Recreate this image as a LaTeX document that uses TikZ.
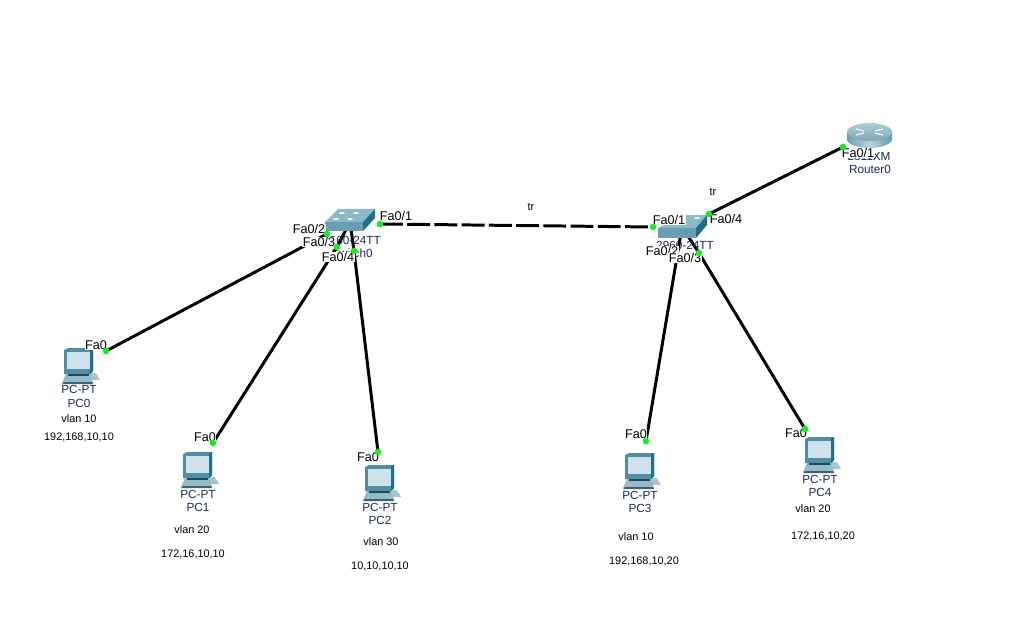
\documentclass[tikz,border=0pt]{standalone}
\usepackage{fontspec}
\setmainfont{Liberation Sans}
\usetikzlibrary{arrows.meta,positioning,calc}
\definecolor{PortGreen}{RGB}{20,240,30}
\definecolor{SwitchFront}{RGB}{104,158,178}
\definecolor{SwitchTop}{RGB}{140,185,200}
\definecolor{SwitchSide}{RGB}{30,112,135}
\definecolor{ScreenBlue}{RGB}{205,226,236}
\definecolor{CaseBlue}{RGB}{84,140,162}
\definecolor{BaseGrey}{RGB}{170,196,206}
\definecolor{NameBlue}{RGB}{30,40,90}
\pgfdeclarelayer{back}
\pgfdeclarelayer{front}
\pgfsetlayers{back,main,front}
\tikzset{
  portdot/.style={circle,fill=PortGreen,inner sep=0pt,minimum size=3.8pt},
  portlbl/.style={fill=white,inner sep=0.3pt,font=\fontsize{7.2}{8}\selectfont},
  devlbl/.style={inner sep=0pt,text=NameBlue,font=\fontsize{6.7}{8}\selectfont},
  notelbl/.style={inner sep=0pt,font=\fontsize{6.2}{8}\selectfont},
  cable/.style={draw=black,line width=1.7pt},
  pcicon/.pic={
    \fill[BaseGrey] (18,24) -- (34,24) -- (38,31) -- (22,31) -- cycle;
    \fill[CaseBlue!60!white] (4,25) -- (28,25) -- (31,34) -- (0,34) -- cycle;
    \fill[CaseBlue!70!black] (2,33) -- (30,33) -- (31,35) -- (0,35) -- cycle;
    \fill[CaseBlue] (2,1) -- (6,-1) -- (31,-1) -- (31,22) -- (28,25) -- (2,25) -- cycle;
    \fill[ScreenBlue] (5,3) -- (28,3) -- (28,20) -- (5,20) -- cycle;
    \fill[SwitchSide] (28,0) -- (31,-1) -- (31,22) -- (28,25) -- cycle;
    \fill[SwitchSide!70!black] (6,25) rectangle (27,27);
  }
}
\begin{document}
\begin{tikzpicture}[x=0.02cm,y=-0.02cm]
  \useasboundingbox (0,0) rectangle (1016,624);

  % ports
  \begin{pgfonlayer}{front}
    \node[portdot] (s0p1) at (380,224) {};
    \node[portdot] (s0p2) at (327,234) {};
    \node[portdot] (s0p3) at (337,247) {};
    \node[portdot] (s0p4) at (354,251) {};
    \node[portdot] (s1p1) at (653,227) {};
    \node[portdot] (s1p3) at (699,253) {};
    \node[portdot] (s1p4) at (709,214) {};
    \node[portdot] (r0p1) at (843,147) {};
    \node[portdot] (pc0p) at (106,351) {};
    \node[portdot] (pc1p) at (213,443) {};
    \node[portdot] (pc2p) at (378,452) {};
    \node[portdot] (pc3p) at (646,441) {};
    \node[portdot] (pc4p) at (805,429) {};
  \end{pgfonlayer}
  \coordinate (sw0) at (350,222);
  \coordinate (sw1) at (682,227);

  % switch 0
  \fill[SwitchTop] (325,222) -- (338,209) -- (375,209) -- (363,222) -- cycle;
  \fill[SwitchFront] (325,222) rectangle (363,231);
  \fill[SwitchSide] (363,222) -- (375,209) -- (375,218) -- (363,231) -- cycle;
  \foreach \px/\py in {336/219,350/219,342/213,356/213}
    \fill[white!85!SwitchTop] (\px,\py) ellipse (3 and 1);

  % switch 1
  \fill[SwitchTop] (658,228) -- (685,215) -- (707,215) -- (696,228) -- cycle;
  \fill[SwitchFront] (658,228) rectangle (696,238);
  \fill[SwitchSide] (696,228) -- (707,215) -- (707,225) -- (696,238) -- cycle;
  \foreach \px/\py in {683/222,697/218}
    \fill[white!85!SwitchTop] (\px,\py) ellipse (3 and 1);

  % router
  \shade[left color=SwitchFront,right color=SwitchSide!70!white,middle color=SwitchTop!60!white] (847,132) -- (847,139) arc[start angle=180,end angle=0,x radius=22.5,y radius=9] -- (892,132) -- cycle;
  \shade[top color=SwitchTop!70!white,bottom color=SwitchTop!90!black] (869.5,132) ellipse (22.5 and 9);
  \draw[white!80!SwitchTop,line width=0.8pt] (856,129) -- (864,131) (883,129) -- (875,131) (856,135) -- (864,133) (883,135) -- (875,133);

  % pcs
  \pic at (62,349) {pcicon};
  \pic at (181,453) {pcicon};
  \pic at (363,466) {pcicon};
  \pic at (623,454) {pcicon};
  \pic at (803,438) {pcicon};

  % links
  \begin{pgfonlayer}{back}
    \draw[cable] (pc0p.center) -- (s0p2.center);
    \draw[cable] (pc1p.center) -- (s0p3.center) -- (sw0);
    \draw[cable] (pc2p.center) -- (s0p4.center) -- (sw0);
    \draw[cable,dash pattern=on 13pt off 2.5pt] (s0p1.center) -- (s1p1.center);
    \draw[cable] (pc3p.center) -- (sw1);
    \draw[cable] (pc4p.center) -- (s1p3.center) -- (sw1);
    \draw[cable] (s1p4.center) -- (r0p1.center);
  \end{pgfonlayer}

  % device names
  \node[devlbl] (s0model) at (352,240) {2960-24TT};
  \node[devlbl] (s0name) at (352,253) {Switch0};
  \node[devlbl] (s1model) at (685,245) {2960-24TT};
  \node[devlbl] (r0model) at (869,156) {2811XM};
  \node[devlbl] (r0name) at (870,169) {Router0};
  \node[devlbl] (pc0type) at (79,389) {PC-PT};
  \node[devlbl] (pc0name) at (79,403) {PC0};
  \node[devlbl] (pc1type) at (198,494) {PC-PT};
  \node[devlbl] (pc1name) at (198,507) {PC1};
  \node[devlbl] (pc2type) at (380,507) {PC-PT};
  \node[devlbl] (pc2name) at (380,520) {PC2};
  \node[devlbl] (pc3type) at (640,495) {PC-PT};
  \node[devlbl] (pc3name) at (640,508) {PC3};
  \node[devlbl] (pc4type) at (820,479) {PC-PT};
  \node[devlbl] (pc4name) at (820,492) {PC4};

  % notes
  \node[notelbl] (tr0) at (531,207) {tr};
  \node[notelbl] (tr1) at (713,192) {tr};
  \node[notelbl] (pc0vlan) at (79,419) {vlan 10};
  \node[notelbl] (pc0ip) at (79,437) {192,168,10,10};
  \node[notelbl] (pc1vlan) at (192,530) {vlan 20};
  \node[notelbl] (pc1ip) at (193,554) {172,16,10,10};
  \node[notelbl] (pc2vlan) at (381,542) {vlan 30};
  \node[notelbl] (pc2ip) at (380,566) {10,10,10,10};
  \node[notelbl] (pc3vlan) at (636,537) {vlan 10};
  \node[notelbl] (pc3ip) at (644,561) {192,168,10,20};
  \node[notelbl] (pc4vlan) at (813,509) {vlan 20};
  \node[notelbl] (pc4ip) at (823,536) {172,16,10,20};

  % port labels
  \node[portlbl] (l0a) at (396,216) {Fa0/1};
  \node[portlbl] (l0b) at (309,229) {Fa0/2};
  \node[portlbl] (l0c) at (319,242) {Fa0/3};
  \node[portlbl] (l0d) at (338,257) {Fa0/4};
  \node[portlbl] (l1a) at (669,220) {Fa0/1};
  \node[portlbl] (l1d) at (726,219) {Fa0/4};
  \node[portlbl] (l1b) at (662,251) {Fa0/2};
  \node[portlbl] (l1c) at (685,258) {Fa0/3};
  \node[portlbl] (lr) at (858,153) {Fa0/1};
  \node[portlbl] (lpc0) at (96,345) {Fa0};
  \node[portlbl] (lpc1) at (205,437) {Fa0};
  \node[portlbl] (lpc2) at (368,457) {Fa0};
  \node[portlbl] (lpc3) at (636,434) {Fa0};
  \node[portlbl] (lpc4) at (796,433) {Fa0};
\end{tikzpicture}
\end{document}
